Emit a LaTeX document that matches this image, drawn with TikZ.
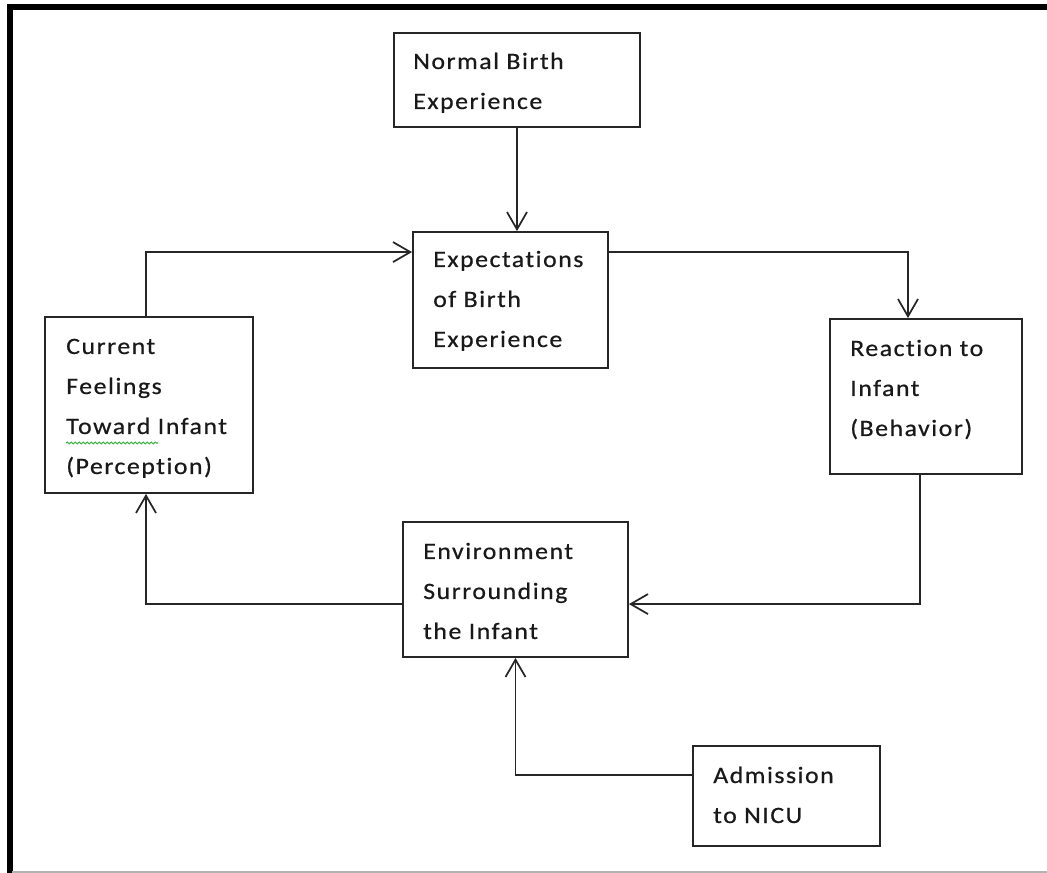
\documentclass[tikz,border=0pt]{standalone}
\usepackage{fontspec}
\setmainfont{Carlito}[LetterSpace=6.5, FakeStretch=1.1, FakeBold=0.6, Ligatures={NoCommon}]
\usetikzlibrary{arrows.meta,calc,fit,decorations.pathmorphing}
\definecolor{ink}{HTML}{262626}
\definecolor{spell}{HTML}{3CB043}
\newcommand\tlines[1]{\vtop{\baselineskip=30pt\lineskiplimit=-100pt\lineskip=0pt\halign{##\hfil\cr#1\crcr}}}
\tikzset{
  box/.style={draw=ink, line width=1.4pt, inner sep=0pt, rectangle},
  txt/.style={anchor=base west, inner sep=0pt, font=\fontsize{17.6pt}{30pt}\selectfont, text=black!90},
  arr/.style={draw=ink, line width=1.4pt, -{Straight Barb[length=13pt,width=15pt,line width=1.3pt]}},
}
\begin{document}
\begin{tikzpicture}[x=0.75pt,y=-0.75pt]
\useasboundingbox (0,0) rectangle (1047,873);
% frame
\draw[line width=3.8pt, black, line join=miter] (10,890) -- (10,7) -- (1070,7);
\draw[line width=1.1pt, black!30] (12,872) -- (1070,872);
% boxes
\node[box, fit={(394,33)(640,127)}] (nb) {};
\node[box, fit={(413,232)(608,368)}] (exp) {};
\node[box, fit={(45,317)(253,493)}] (cur) {};
\node[box, fit={(830,319)(1022,474)}] (react) {};
\node[box, fit={(403,522)(628,657)}] (env) {};
\node[box, fit={(693,746)(880,846)}] (adm) {};
% texts
\node[txt] (nbt) at (413,69) {\tlines{Normal Birth\cr Experience}};
\node[txt] (expt) at (433,267) {\tlines{Expectations\cr of Birth\cr Experience}};
\node[txt] (curt) at (66,354) {\tlines{Current\cr Feelings\cr Toward Infant\cr (Perception)}};
\node[txt] (reactt) at (850,356) {\tlines{Reaction to\cr Infant\cr (Behavior)}};
\node[txt] (envt) at (423,559) {\tlines{Environment\cr Surrounding\cr the Infant}};
\node[txt] (admt) at (713,783) {\tlines{Admission\cr to NICU}};
% spell-check squiggle
\draw[spell, line width=0.8pt, decorate, decoration={snake, amplitude=0.7pt, segment length=3pt}] (66,443) -- (158,443);
% connectors
\draw[arr] (nb.south) -- (nb.south |- exp.north);
\draw[arr] ($(cur.north)+(-3,0)$) |- ($(exp.north west)+(0,21)$);
\draw[arr] ($(exp.north east)+(0,21)$) -| ($(react.north)+(-18,0)$);
\draw[arr] ($(react.south)+(-6,0)$) |- ($(env.north east)+(0,83)$);
\draw[arr] ($(env.north west)+(0,83)$) -| ($(cur.south)+(-3,0)$);
\draw[arr] ($(adm.north west)+(0,30)$) -| (env.south);
\end{tikzpicture}
\end{document}
